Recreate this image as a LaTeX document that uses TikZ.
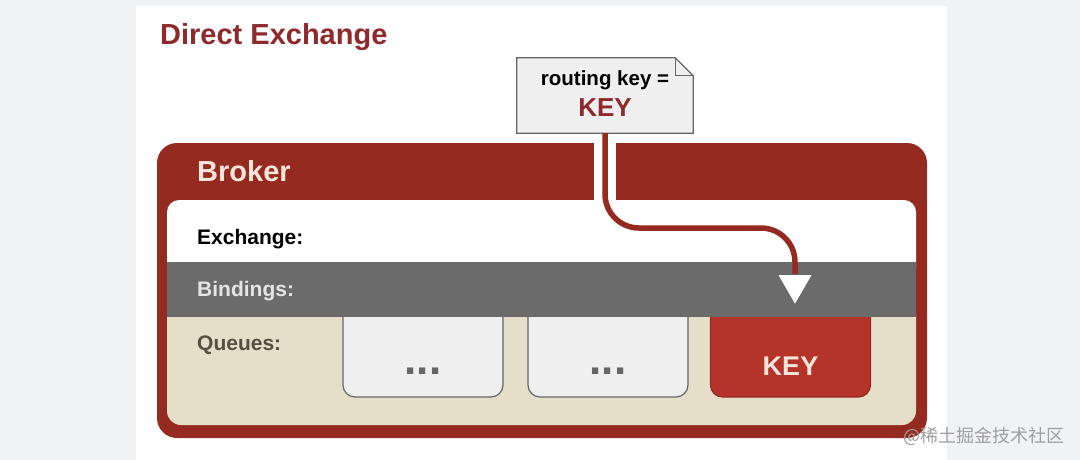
\documentclass[tikz,border=0pt]{standalone}
\usepackage{fontspec}
\setmainfont{Liberation Sans}
\newfontfamily\cjk{Noto Sans CJK SC}
\usetikzlibrary{arrows.meta,positioning,calc,shapes.geometric}

\definecolor{pagegray}{HTML}{F1F2F4}
\definecolor{titlered}{HTML}{8E2A2C}
\definecolor{brokerred}{HTML}{952A20}
\definecolor{keyred}{HTML}{B4342A}
\definecolor{cream}{HTML}{F8E4DA}
\definecolor{beige}{HTML}{E5DFCA}
\definecolor{bandgray}{HTML}{6B6B6B}
\definecolor{boxgray}{HTML}{EFEFEF}
\definecolor{edgegray}{HTML}{666666}
\definecolor{qtext}{HTML}{55503F}

\begin{document}
\begin{tikzpicture}[x=1pt,y=-1pt,font=\bfseries,
  lbl/.style={anchor=base west,inner sep=0pt,font=\bfseries\fontsize{21}{21}\selectfont},
  queuebox/.style={draw=edgegray,line width=1.2pt,fill=boxgray,rounded corners=12pt,
    minimum width=160pt,minimum height=97pt,inner sep=0pt},
  dots/.style={anchor=base,inner sep=0pt,text=edgegray,font=\bfseries\fontsize{44}{44}\selectfont},
  arrowtri/.style={regular polygon,regular polygon sides=3,shape border rotate=180,minimum size=41pt,
    inner sep=0pt,fill=white,draw=edgegray,line width=1pt}]
\useasboundingbox (0,0) rectangle (1080,460);
\fill[pagegray] (0,0) rectangle (1080,460);
\fill[white] (136,6) rectangle (947,460);

% title
\node[anchor=base west,inner sep=0pt,text=titlered,font=\bfseries\fontsize{29}{29}\selectfont] (title) at (160,45) {Direct Exchange};

% broker frame
\node[fill=brokerred,rounded corners=20pt,minimum width=770pt,minimum height=295pt] (broker) at (542,290.5) {};
\fill[white] (594,140) rectangle (616,201);
\fill[white,rounded corners=12pt] (167,200) rectangle (916,280);
\fill[beige,rounded corners=14pt] (167,300) rectangle (916,425);

% queues
\node[queuebox] (q1) at (423,348.5) {};
\node[queuebox] (q2) at (608,348.5) {};
\node[queuebox,draw=brokerred,fill=keyred] (q3) at (790.5,348.5) {};
\node[dots] (q1dots) at (423,374) {...};
\node[dots] (q2dots) at (608,374) {...};
\node[anchor=base,inner sep=0pt,text=cream,font=\bfseries\fontsize{27}{27}\selectfont] (q3key) at (790.5,375) {KEY};

% bindings band
\fill[bandgray] (167,262) rectangle (916,317);

\node[lbl,text=cream,font=\bfseries\fontsize{29}{29}\selectfont] (brokerlbl) at (197,181) {Broker};
\node[lbl] (exlbl) at (197,244) {Exchange:};
\node[lbl,text=white!90!black] (bindlbl) at (197,296) {Bindings:};
\node[lbl,text=qtext] (queuelbl) at (197,350) {Queues:};

% message note
\node[minimum width=176pt,minimum height=75pt,inner sep=0pt] (note) at (605,95.5) {};
\filldraw[fill=boxgray,draw=edgegray,line width=1.2pt] (note.south west) -- (note.north west)
  -- ($(note.north east)+(-18,0)$) -- ($(note.north east)+(0,18)$) -- (note.south east) -- cycle;
\draw[edgegray,line width=1pt] ($(note.north east)+(-18,0)$) -- ($(note.north east)+(-18,18)$) -- ($(note.north east)+(0,18)$);
\node[anchor=base,inner sep=0pt,font=\bfseries\fontsize{20.5}{20.5}\selectfont] (rkey) at (605,86) {routing key =};
\node[anchor=base,inner sep=0pt,text=titlered,font=\bfseries\fontsize{26}{26}\selectfont] (notekey) at (605,117) {KEY};

% route
\coordinate (tritop) at (795,274);
\draw[brokerred,line width=5.5pt,rounded corners=34pt] (note.south) |- ($(tritop)+(0,-46)$) -- (tritop);
\node[arrowtri] (tri) at (795,284.5) {};

% watermark
\node[anchor=base west,inner sep=0pt,text=gray!75,font=\cjk\fontsize{18}{18}\selectfont] (wm) at (903,442) {@稀土掘金技术社区};
\end{tikzpicture}
\end{document}
